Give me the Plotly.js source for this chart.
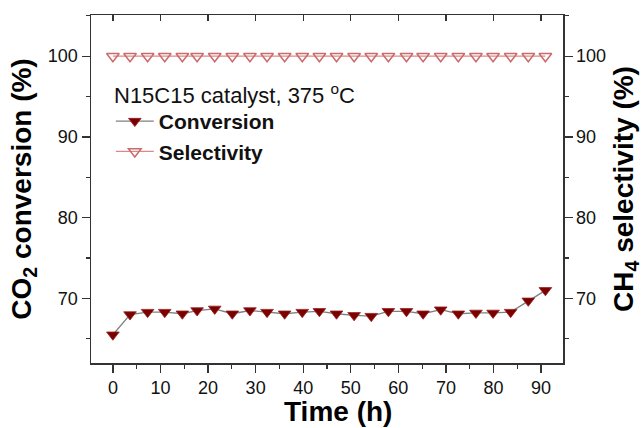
<!DOCTYPE html>
<html>
<head>
<meta charset="utf-8">
<script src="https://cdn.plot.ly/plotly-3.0.1.min.js"></script>
<style>html,body{margin:0;padding:0;background:#fff;}#chart{width:643px;height:428px;}</style>
</head>
<body>
<div id="chart"></div>
<script>
var timeH = [0, 3.6, 7.3, 10.9, 14.6, 17.7, 21.4, 25.1, 28.8, 32.4, 36.1, 39.8, 43.4, 47.0, 50.7, 54.3, 57.9, 61.7, 65.2, 68.9, 72.6, 76.3, 79.9, 83.6, 87.3, 90.9];
var conversion = [65.5, 68.0, 68.3, 68.3, 68.1, 68.5, 68.7, 68.1, 68.5, 68.3, 68.1, 68.3, 68.4, 68.1, 67.9, 67.8, 68.4, 68.4, 68.1, 68.6, 68.1, 68.2, 68.2, 68.3, 69.7, 71.0];
var selectivity = [100, 100, 100, 100, 100, 100, 100, 100, 100, 100, 100, 100, 100, 100, 100, 100, 100, 100, 100, 100, 100, 100, 100, 100, 100, 100];
var xTicks = [0, 10, 20, 30, 40, 50, 60, 70, 80, 90];
var yTicks = [70, 80, 90, 100];

var FONT = 'Liberation Sans, Arial, sans-serif';

var traces = [
  {
    x: timeH, y: conversion, name: '<b>Conversion</b>', type: 'scatter', mode: 'lines+markers',
    line: {color: '#808080', width: 1.3},
    marker: {symbol: 'triangle-down', size: 11, color: '#7a0000', line: {color: '#9a2020', width: 0.8}},
    xaxis: 'x', yaxis: 'y'
  },
  {
    x: timeH, y: selectivity, name: '<b>Selectivity</b>', type: 'scatter', mode: 'lines+markers',
    line: {color: '#d88a8a', width: 1.3},
    marker: {symbol: 'triangle-down-open', size: 11, color: '#cc6a6a', line: {color: '#cc6a6a', width: 1.5}},
    xaxis: 'x', yaxis: 'y2'
  },
  {
    x: [0], y: [0], xaxis: 'x2', yaxis: 'y', showlegend: false, hoverinfo: 'skip',
    mode: 'markers', marker: {opacity: 0}
  }
];

var layout = {
  width: 643, height: 428,
  paper_bgcolor: '#ffffff', plot_bgcolor: '#ffffff',
  margin: {l: 91, r: 80, t: 15, b: 65},
  font: {family: FONT, color: '#111'},
  showlegend: true,
  legend: {
    x: 0.042, y: 0.753, xanchor: 'left', yanchor: 'top',
    bgcolor: 'rgba(0,0,0,0)', borderwidth: 0,
    font: {family: FONT, size: 21, color: '#111'},
    tracegroupgap: 0, itemwidth: 38
  },
  annotations: [
    {
      text: 'N15C15 catalyst, 375 <sup>o</sup>C', xref: 'paper', yref: 'paper',
      x: 0.044, y: 0.772, xanchor: 'left', yanchor: 'middle', showarrow: false,
      font: {family: FONT, size: 22, color: '#111'}
    },
    {
      text: '<b>Time (h)</b>', xref: 'paper', yref: 'paper',
      x: 0.523, y: -0.139, xanchor: 'center', yanchor: 'middle', showarrow: false, borderpad: 0,
      font: {family: FONT, size: 28, color: '#000'}
    }
  ],
  xaxis: {
    range: [-4.6, 94.6], tickvals: xTicks, ticks: 'outside', ticklen: 8, tickwidth: 1.3, tickcolor: '#333',
    minor: {dtick: 5, ticks: 'outside', ticklen: 4, tickwidth: 1.3, tickcolor: '#333', showgrid: false},
    showline: true, linecolor: '#333', linewidth: 1.5, showgrid: false, zeroline: false,
    tickfont: {family: FONT, size: 18, color: '#111'}
  },
  xaxis2: {
    overlaying: 'x', side: 'top', range: [-4.6, 94.6], tickvals: xTicks, ticks: 'inside', ticklen: 6,
    tickwidth: 1.3, tickcolor: '#333', showticklabels: false, showline: true, linecolor: '#333', linewidth: 1.5,
    showgrid: false, zeroline: false
  },
  yaxis: {
    range: [62, 105.1], tickvals: yTicks, ticks: 'outside', ticklen: 8, tickwidth: 1.3, tickcolor: '#333',
    minor: {dtick: 5, ticks: 'outside', ticklen: 4, tickwidth: 1.3, tickcolor: '#333', showgrid: false},
    showline: true, linecolor: '#333', linewidth: 1.5, showgrid: false, zeroline: false,
    tickfont: {family: FONT, size: 18, color: '#111'},
    title: {text: '<b>CO<sub>2</sub> conversion (%)</b>', font: {family: FONT, size: 28, color: '#000'}, standoff: 8}
  },
  yaxis2: {
    overlaying: 'y', side: 'right', range: [62, 105.1], tickvals: yTicks, ticks: 'outside', ticklen: 8,
    tickwidth: 1.3, tickcolor: '#333',
    minor: {dtick: 5, ticks: 'outside', ticklen: 4, tickwidth: 1.3, tickcolor: '#333', showgrid: false},
    showline: true, linecolor: '#333', linewidth: 1.5, showgrid: false, zeroline: false,
    tickfont: {family: FONT, size: 18, color: '#111'},
    title: {text: '<b>CH<sub>4</sub> selectivity (%)</b>', font: {family: FONT, size: 28, color: '#000'}, standoff: 8}
  }
};

Plotly.newPlot('chart', traces, layout, {displayModeBar: false, staticPlot: true});
</script>
</body>
</html>
